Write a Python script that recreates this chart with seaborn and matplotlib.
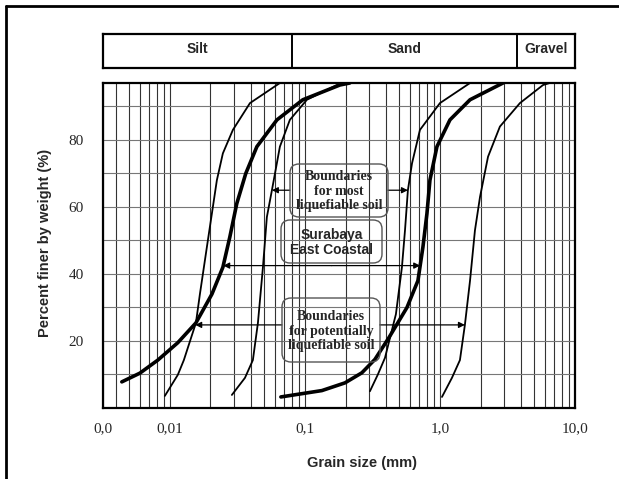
import numpy as np
import pandas as pd
import matplotlib
matplotlib.use("Agg")
import matplotlib.pyplot as plt
import seaborn as sns
from matplotlib.ticker import FixedLocator, LogLocator, MultipleLocator, NullFormatter
from matplotlib.patches import FancyBboxPatch
from matplotlib.lines import Line2D
from matplotlib.transforms import IdentityTransform

# grain size (mm) vs percent finer (%)
surabaya_fine_x = [0.00441, 0.006, 0.00815, 0.01146, 0.0156, 0.0205, 0.0247, 0.0278, 0.0313, 0.0365, 0.0441, 0.0621, 0.0966, 0.1816, 0.215]
surabaya_fine_y = [7.8, 10.4, 14.3, 19.5, 25.4, 34, 42, 51, 61, 70, 78, 86, 92, 96.4, 97]
surabaya_coarse_x = [0.0664, 0.1336, 0.198, 0.264, 0.33, 0.419, 0.57, 0.687, 0.748, 0.801, 0.843, 0.95, 1.186, 1.67, 2.93]
surabaya_coarse_y = [3.3, 5.2, 7.5, 10.5, 14.5, 21, 30, 38, 48, 58, 68, 78, 86, 92, 97]

potential_lo_x = [0.00918, 0.01146, 0.0127, 0.0156, 0.0167, 0.0188, 0.0223, 0.0247, 0.0293, 0.0392, 0.0653]
potential_lo_y = [3.6, 9.9, 14.3, 25.4, 34, 48, 68, 76, 83, 91, 97]
potential_hi_x = [1.035, 1.227, 1.406, 1.53, 1.67, 1.816, 1.98, 2.27, 2.78, 3.91, 5.8, 6.5]
potential_hi_y = [3.3, 9, 14.3, 24.8, 38, 53, 63, 75, 84, 91, 96.4, 97]

most_lo_x = [0.0288, 0.036, 0.0412, 0.0449, 0.0489, 0.0523, 0.057, 0.0653, 0.0774, 0.1035, 0.1726, 0.198]
most_lo_y = [3.9, 9, 14.3, 25.4, 42, 57, 65, 78, 86, 92, 96.4, 97]
most_hi_x = [0.303, 0.347, 0.392, 0.427, 0.472, 0.523, 0.551, 0.579, 0.621, 0.711, 1.0, 1.67]
most_hi_y = [5, 10, 15, 21, 28, 42, 53, 65, 73, 83, 91, 97]

# soil classes in the top band
soil_names = ["Silt", "Sand", "Gravel"]
soil_limits = [0.0032, 0.08, 3.7, 10.0]

tick_values = [0.0032, 0.01, 0.1, 1.0, 10.0]
tick_labels = ["0,0", "0,01", "0,1", "1,0", "10,0"]

sns.set_style("white")
plt.rcParams['font.family'] = ['Liberation Sans', 'DejaVu Sans']
SERIF = ['Liberation Serif', 'DejaVu Serif']

W, H = 619, 479
fig = plt.figure(figsize=(W / 100, H / 100), dpi=100)


def fx(px):
    return px / W


def fy(py):
    return 1 - py / H


ax = fig.add_axes([fx(103), fy(408), fx(575) - fx(103), fy(83) - fy(408)])

curves = [
    (surabaya_fine_x, surabaya_fine_y, 2.6),
    (surabaya_coarse_x, surabaya_coarse_y, 2.6),
    (potential_lo_x, potential_lo_y, 1.3),
    (potential_hi_x, potential_hi_y, 1.3),
    (most_lo_x, most_lo_y, 1.3),
    (most_hi_x, most_hi_y, 1.3),
]
for cx, cy, lw in curves:
    sns.lineplot(x=cx, y=cy, ax=ax, color="black", lw=lw, sort=False,
                 estimator=None, zorder=3)

ax.set_xscale("log")
ax.set_xlim(soil_limits[0], soil_limits[-1])
ax.set_ylim(0, 97)
ax.xaxis.set_major_locator(FixedLocator(tick_values))
ax.set_xticklabels(tick_labels)
ax.xaxis.set_minor_locator(LogLocator(base=10, subs=np.arange(2, 10)))
ax.xaxis.set_minor_formatter(NullFormatter())
ax.yaxis.set_major_locator(FixedLocator([20, 40, 60, 80]))
ax.yaxis.set_minor_locator(MultipleLocator(10))
ax.grid(True, axis="x", which="both", color="#333333", lw=0.8)
ax.grid(True, axis="y", which="both", color="#777777", lw=0.8)
ax.tick_params(which="both", length=0)
ax.tick_params(axis="x", pad=10)
ax.tick_params(axis="y", pad=14)
for lab in ax.get_xticklabels() + ax.get_yticklabels():
    lab.set_family(SERIF)
    lab.set_fontsize(11)
for sp in ax.spines.values():
    sp.set_color("black")
    sp.set_linewidth(1.6)
ax.set_xlabel("")
ax.set_ylabel("")

# soil class band
bx = fig.add_axes([fx(103), fy(68), fx(575) - fx(103), fy(34) - fy(68)])
bx.set_xscale("log")
bx.set_xlim(soil_limits[0], soil_limits[-1])
bx.set_ylim(0, 1)
bx.set_xticks([])
bx.set_yticks([])
bx.minorticks_off()
for sp in bx.spines.values():
    sp.set_color("black")
    sp.set_linewidth(1.6)
for b in soil_limits[1:-1]:
    bx.axvline(b, color="black", lw=1.4)
for name, lo, hi in zip(soil_names, soil_limits[:-1], soil_limits[1:]):
    bx.text(np.sqrt(lo * hi), 0.55, name, ha="center", va="center",
            fontsize=10, fontweight="bold")

# rounded label boxes (pixel coordinates of the picture)
boxes = [
    ((290, 164, 388, 217), "Boundaries\nfor most\nliquefiable soil", SERIF),
    ((281, 220, 382, 263), "Surabaya\nEast Coastal", ['Liberation Sans', 'DejaVu Sans']),
    ((282, 298, 380, 362), "Boundaries\nfor potentially\nliquefiable soil", SERIF),
]
for (x0, y0, x1, y1), txt, fam in boxes:
    patch = FancyBboxPatch((x0, H - y1), x1 - x0, y1 - y0,
                           boxstyle="round,pad=0,rounding_size=9",
                           transform=IdentityTransform(), fill=False,
                           ec="#555555", lw=1.0, zorder=5)
    fig.add_artist(patch)
    fig.text(fx((x0 + x1) / 2), fy((y0 + y1) / 2 + 1), txt, ha="center", va="center",
             family=fam, fontweight="bold", fontsize=10, linespacing=1.15, zorder=6)


def on_curve(cx, cy, level):
    return 10 ** np.interp(level, cy, np.log10(cx))


arrows = [
    (65, 0.0774, most_lo_x, most_lo_y),
    (65, 0.412, most_hi_x, most_hi_y),
    (42.5, 0.158, surabaya_fine_x, surabaya_fine_y),
    (42.5, 0.158, surabaya_coarse_x, surabaya_coarse_y),
    (24.8, 0.0676, potential_lo_x, potential_lo_y),
    (24.8, 0.359, potential_hi_x, potential_hi_y),
]
for level, start, cx, cy in arrows:
    ax.annotate("", xy=(on_curve(cx, cy, level), level), xytext=(start, level),
                arrowprops=dict(arrowstyle="-|>", color="black", lw=0.9,
                                mutation_scale=9, shrinkA=0, shrinkB=0), zorder=4)

fig.text(fx(362), fy(463), "Grain size (mm)", ha="center", va="center",
         fontsize=10.5, fontweight="bold")
fig.text(fx(45), fy(243), "Percent finer by weight (%)", ha="center", va="center",
         rotation=90, fontsize=10.5, fontweight="bold")

# outer frame (left and top edges)
fig.add_artist(Line2D([fx(6), fx(6)], [0, fy(6)], color="black", lw=2))
fig.add_artist(Line2D([fx(6), 1], [fy(6), fy(6)], color="black", lw=2))

fig.savefig("out.png", dpi=100)
